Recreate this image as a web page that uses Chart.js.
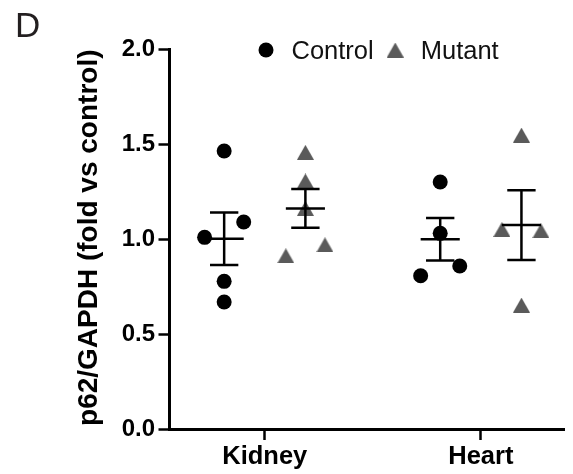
<!DOCTYPE html>
<html><head><meta charset="utf-8">
<script src="https://cdn.jsdelivr.net/npm/chart.js@4.4.1/dist/chart.umd.min.js"></script>
<style>html,body{margin:0;padding:0;background:#fff;}canvas{display:block;}</style>
</head><body>
<canvas id="c" width="573" height="474"></canvas>
<script>
// ---- data ----
const panelLabel = 'D';
const categories = ['Kidney', 'Heart'];
const seriesNames = ['Control', 'Mutant'];
const yAxisTitle = 'p62/GAPDH (fold vs control)';
const yTickStep = 0.5;
const yMin = 0;
const yMax = 2.0;
const controlKidney = [1.465, 1.010, 1.091, 0.778, 0.669];
const controlHeart = [1.302, 1.031, 0.808, 0.859];
const mutantKidney = [1.458, 1.307, 1.163, 0.913, 0.971];
const mutantHeart = [1.549, 1.052, 1.045, 0.653];

// ---- layout / style constants ----
const FONT = '"Liberation Sans", Arial, Helvetica, sans-serif';
const GROUP_OFFSET = 0.188;
const SWARM_STEP = 0.181;
const COLLIDE = 0.1;
const MEAN_HALF = 0.0905;
const CAP_HALF = 0.0656;
const CONTROL_COLOR = '#000000';
const MUTANT_COLOR = '#5a5a5a';

const groups = [
  { series: 0, category: 0, values: controlKidney },
  { series: 1, category: 0, values: mutantKidney },
  { series: 0, category: 1, values: controlHeart },
  { series: 1, category: 1, values: mutantHeart }
];

function swarmOffsets(values) {
  const idx = values.map((v, i) => i).sort((a, b) => values[a] - values[b]);
  const offs = new Array(values.length).fill(0);
  let cluster = [idx[0]];
  const flush = () => {
    const ord = cluster.slice().sort((a, b) => a - b);
    ord.forEach((k, j) => { offs[k] = (j - (ord.length - 1) / 2) * SWARM_STEP; });
  };
  for (let i = 1; i < idx.length; i++) {
    if (values[idx[i]] - values[idx[i - 1]] < COLLIDE) cluster.push(idx[i]);
    else { flush(); cluster = [idx[i]]; }
  }
  flush();
  return offs;
}
function meanSem(v) {
  const n = v.length;
  const m = v.reduce((a, b) => a + b, 0) / n;
  const sd = Math.sqrt(v.reduce((a, b) => a + (b - m) * (b - m), 0) / (n - 1));
  return { m, s: sd / Math.sqrt(n) };
}
function groupCenter(g) {
  return g.category + 1 + (g.series === 0 ? -GROUP_OFFSET : GROUP_OFFSET);
}

const pointData = [[], []];
const barData = [];
groups.forEach(g => {
  const cx = groupCenter(g);
  const offs = swarmOffsets(g.values);
  g.values.forEach((v, i) => pointData[g.series].push({ x: cx + offs[i], y: v }));
  const { m, s } = meanSem(g.values);
  const gap = { x: cx, y: null };
  barData.push(
    { x: cx - MEAN_HALF, y: m }, { x: cx + MEAN_HALF, y: m }, gap,
    { x: cx, y: m - s }, { x: cx, y: m + s }, gap,
    { x: cx - CAP_HALF, y: m + s }, { x: cx + CAP_HALF, y: m + s }, gap,
    { x: cx - CAP_HALF, y: m - s }, { x: cx + CAP_HALF, y: m - s }, gap
  );
});

function makeTriangle(w, h, color) {
  const c = document.createElement('canvas');
  c.width = w; c.height = h;
  const g = c.getContext('2d');
  g.fillStyle = color;
  g.beginPath(); g.moveTo(w / 2, 0); g.lineTo(w, h); g.lineTo(0, h); g.closePath(); g.fill();
  return c;
}
const triangleImg = makeTriangle(17, 15, MUTANT_COLOR);

const extrasPlugin = {
  id: 'figureExtras',
  afterDraw(chart) {
    const ctx = chart.ctx;
    const a = chart.chartArea;
    ctx.save();
    // panel letter
    ctx.font = '35px ' + FONT;
    ctx.fillStyle = '#231f20';
    ctx.textAlign = 'left';
    ctx.textBaseline = 'alphabetic';
    ctx.fillText(panelLabel, 15, 37);
    // legend
    const fs = 25.5;
    ctx.font = fs + 'px ' + FONT;
    const cy = a.top + 0.5;
    const baseline = cy + 0.716 * fs / 2;
    const w0 = ctx.measureText(seriesNames[0]).width;
    let x = a.left + 89;
    ctx.fillStyle = CONTROL_COLOR;
    ctx.beginPath(); ctx.arc(x + 7.5, cy, 7.5, 0, Math.PI * 2); ctx.fill();
    x += 15 + 18;
    ctx.fillStyle = '#111';
    ctx.fillText(seriesNames[0], x, baseline);
    x += w0 + 13;
    ctx.drawImage(triangleImg, x, cy - 7.5);
    x += 17 + 17;
    ctx.fillStyle = '#111';
    ctx.fillText(seriesNames[1], x, baseline);
    ctx.restore();
  }
};

new Chart(document.getElementById('c'), {
  data: {
    datasets: [
      {
        type: 'line', label: 'Mean ± SEM', data: barData,
        borderColor: '#000', borderWidth: 2.5, pointRadius: 0, spanGaps: false,
        tension: 0, fill: false
      },
      {
        type: 'scatter', label: seriesNames[0], data: pointData[0],
        pointStyle: 'circle', pointRadius: 7.5, backgroundColor: CONTROL_COLOR, borderWidth: 0
      },
      {
        type: 'scatter', label: seriesNames[1], data: pointData[1],
        pointStyle: triangleImg, pointRadius: 9, backgroundColor: MUTANT_COLOR, borderWidth: 0
      }
    ]
  },
  options: {
    responsive: false,
    animation: false,
    events: [],
    layout: { padding: { top: 49.5, left: 0, right: 0, bottom: 0 } },
    plugins: { legend: { display: false }, tooltip: { enabled: false }, title: { display: false } },
    scales: {
      x: {
        type: 'linear',
        min: 0.559, max: 2.385,
        afterBuildTicks: s => { s.ticks = categories.map((c, i) => ({ value: i + 1 })); },
        afterFit: s => { s.height = 45; },
        ticks: {
          callback: v => categories[Math.round(v) - 1],
          font: { family: FONT, size: 25.5, weight: 'bold' },
          color: '#000', padding: 2, maxRotation: 0, autoSkip: false
        },
        grid: { display: true, drawOnChartArea: false, drawTicks: true, tickLength: 11, tickWidth: 2.5, tickColor: '#000' },
        border: { display: true, color: '#000', width: 3 }
      },
      y: {
        type: 'linear',
        min: yMin, max: yMax,
        afterFit: s => { s.width = 169.5; },
        ticks: {
          stepSize: yTickStep,
          callback: v => Number(v).toFixed(1),
          font: { family: FONT, size: 24, weight: 'bold' },
          color: '#000', padding: 3.5
        },
        grid: { display: true, drawOnChartArea: false, drawTicks: true, tickLength: 11, tickWidth: 2.5, tickColor: '#000' },
        border: { display: true, color: '#000', width: 3 },
        title: {
          display: true, text: yAxisTitle, color: '#000', align: 'end',
          font: { family: FONT, size: 28, weight: 'bold' },
          padding: { top: 72, bottom: 0 }
        }
      }
    }
  },
  plugins: [extrasPlugin]
});
</script>
</body></html>
